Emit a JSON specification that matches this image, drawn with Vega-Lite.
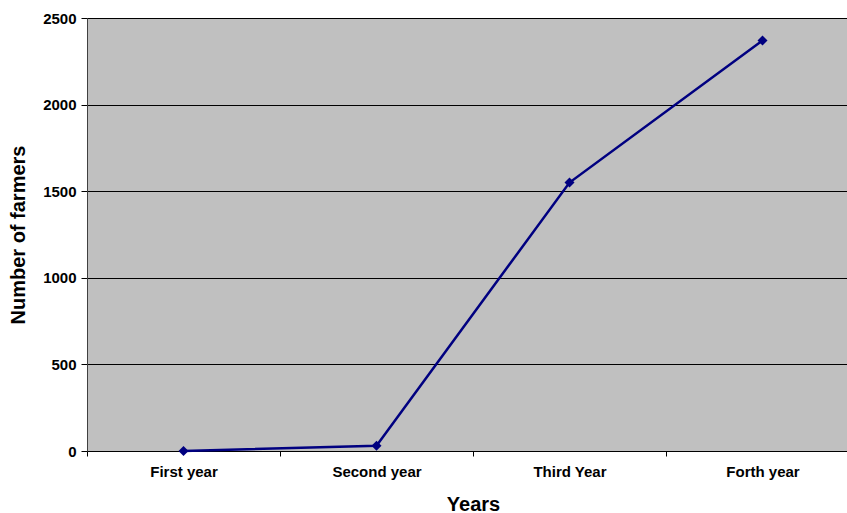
{
  "$schema": "https://vega.github.io/schema/vega-lite/v6.json",
  "autosize": {"type": "none"},
  "padding": {"left": 87, "top": 18, "right": 0, "bottom": 62},
  "width": 760,
  "height": 433,
  "background": "white",
  "config": {
    "view": {"fill": "#c0c0c0", "stroke": "#808080", "strokeWidth": 1},
    "font": "Liberation Sans"
  },
  "data": {"values": [
    {"year": "First year", "farmers": 0},
    {"year": "Second year", "farmers": 30},
    {"year": "Third Year", "farmers": 1550},
    {"year": "Forth year", "farmers": 2370}
  ]},
  "mark": {"type": "line", "color": "#000080", "strokeWidth": 2.5, "point": {"shape": "diamond", "size": 100, "filled": true, "color": "#000080"}},
  "encoding": {
    "x": {
      "field": "year", "type": "nominal", "sort": null,
      "scale": {"type": "band", "paddingInner": 0, "paddingOuter": 0, "range": [0, 772]},
      "axis": {
        "title": "Years", "titleFontSize": 20, "titleFontWeight": "bold", "titleColor": "black", "titlePadding": 15,
        "labelAngle": 0, "labelFontSize": 15, "labelFontWeight": "bold", "labelColor": "black", "labelPadding": 8,
        "tickBand": "extent", "tickColor": "black", "tickSize": 5, "domainColor": "black", "grid": false
      }
    },
    "y": {
      "field": "farmers", "type": "quantitative",
      "scale": {"domain": [0, 2500], "nice": false},
      "axis": {
        "title": "Number of farmers", "titleFontSize": 20, "titleFontWeight": "bold", "titleColor": "black", "titlePadding": 14,
        "values": [0, 500, 1000, 1500, 2000, 2500], "format": "d",
        "labelFontSize": 15, "labelFontWeight": "bold", "labelColor": "black", "labelPadding": 5,
        "tickColor": "black", "tickSize": 6, "domainColor": "#404040",
        "grid": true, "gridColor": "black", "gridOpacity": 1, "gridWidth": 1
      }
    }
  }
}
